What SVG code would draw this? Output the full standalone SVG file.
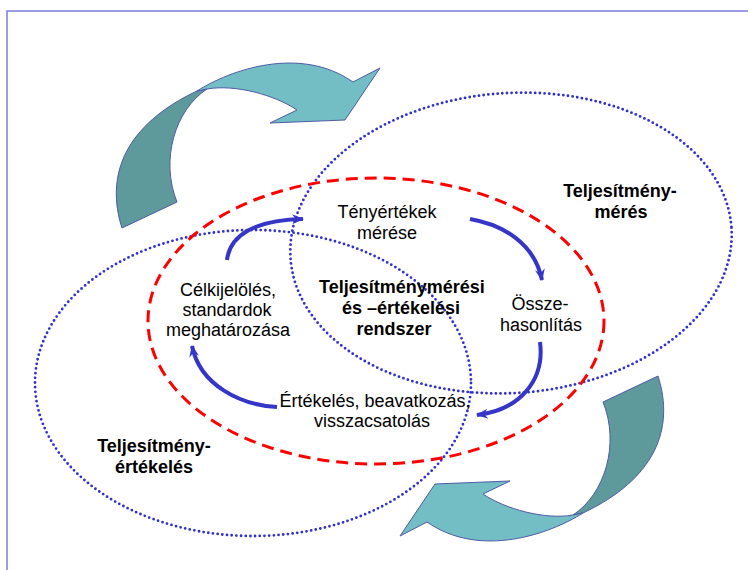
<svg xmlns="http://www.w3.org/2000/svg" xmlns:xlink="http://www.w3.org/1999/xlink" width="748" height="570" viewBox="0 0 748 570">
<style>
.t{font-family:"Liberation Sans",Arial,sans-serif;font-size:18px;fill:#000;text-anchor:middle}
.b{font-weight:bold}
.dot{fill:none;stroke:#3030d0;stroke-width:2.8;stroke-linecap:round;stroke-dasharray:0 4.7}
.dash{fill:none;stroke:#ff0000;stroke-width:3;stroke-dasharray:12 7}
.cyc{fill:none;stroke:#3535c8;stroke-width:4;marker-end:url(#ah)}
.light{fill:#72bec4;stroke:#4f5aa8;stroke-width:1}
.dark{fill:#5e999b;stroke:#4f5aa8;stroke-width:1}
</style>
<defs>
<marker id="ah" viewBox="0 0 12 12" refX="11" refY="6" markerWidth="12" markerHeight="12" markerUnits="userSpaceOnUse" orient="auto">
<path d="M0,1 L12,6 L0,11 L4,6 Z" fill="#3535c8"/>
</marker>
<g id="bigArrow">
<path class="dark" d="M122,228 C105,175 125,125 197,91 L207,89 C175,110 160,160 177,202 Z"/>
<path class="light" d="M197,91 C230,70 300,45 353,82 L380,68 L345,120 L270,123 L297,110 C275,95 235,84 207,89 Z"/>
</g>
</defs>
<rect width="748" height="570" fill="#fff"/>
<path d="M7,570 V11 H748" fill="none" stroke="#7c7ce0" stroke-width="1.5"/>
<g id="arrow-top"><use xlink:href="#bigArrow"/></g>
<g id="arrow-bottom"><use xlink:href="#bigArrow" transform="rotate(180 390 302)"/></g>
<g id="ellipse-meres"><ellipse class="dot" cx="511" cy="243" rx="221" ry="150" transform="rotate(-4 511 243)"/>
<text class="t b" x="620" y="197">Teljesítmény-</text><text class="t b" x="621" y="218">mérés</text></g>
<g id="ellipse-ertekeles"><ellipse class="dot" cx="253" cy="383" rx="218" ry="153"/>
<text class="t b" x="154" y="452">Teljesítmény-</text><text class="t b" x="154" y="473">értékelés</text></g>
<g id="ellipse-rendszer"><ellipse class="dash" cx="376" cy="321" rx="228" ry="143"/>
<text class="t b" x="402" y="293">Teljesítménymérési</text><text class="t b" x="401" y="314">és –értékelési</text><text class="t b" x="394" y="335">rendszer</text></g>
<g id="node-teny"><text class="t" x="387" y="218">Tényértékek</text><text class="t" x="387" y="239">mérése</text></g>
<g id="node-ossze"><text class="t" x="540" y="310">Össze-</text><text class="t" x="541" y="331">hasonlítás</text></g>
<g id="node-ertekeles"><text class="t" x="375" y="407">Értékelés, beavatkozás,</text><text class="t" x="372" y="427">visszacsatolás</text></g>
<g id="node-cel"><text class="t" x="228" y="296">Célkijelölés,</text><text class="t" x="227" y="316">standardok</text><text class="t" x="228" y="336">meghatározása</text></g>
<g id="connectors">
<path class="cyc" d="M227,260 C230,235 255,220 303,219"/>
<path class="cyc" d="M470,219 C505,225 535,245 542,280"/>
<path class="cyc" d="M540,342 C545,380 520,410 477,415"/>
<path class="cyc" d="M277,407 C240,405 200,385 192,346"/>
</g>
</svg>
